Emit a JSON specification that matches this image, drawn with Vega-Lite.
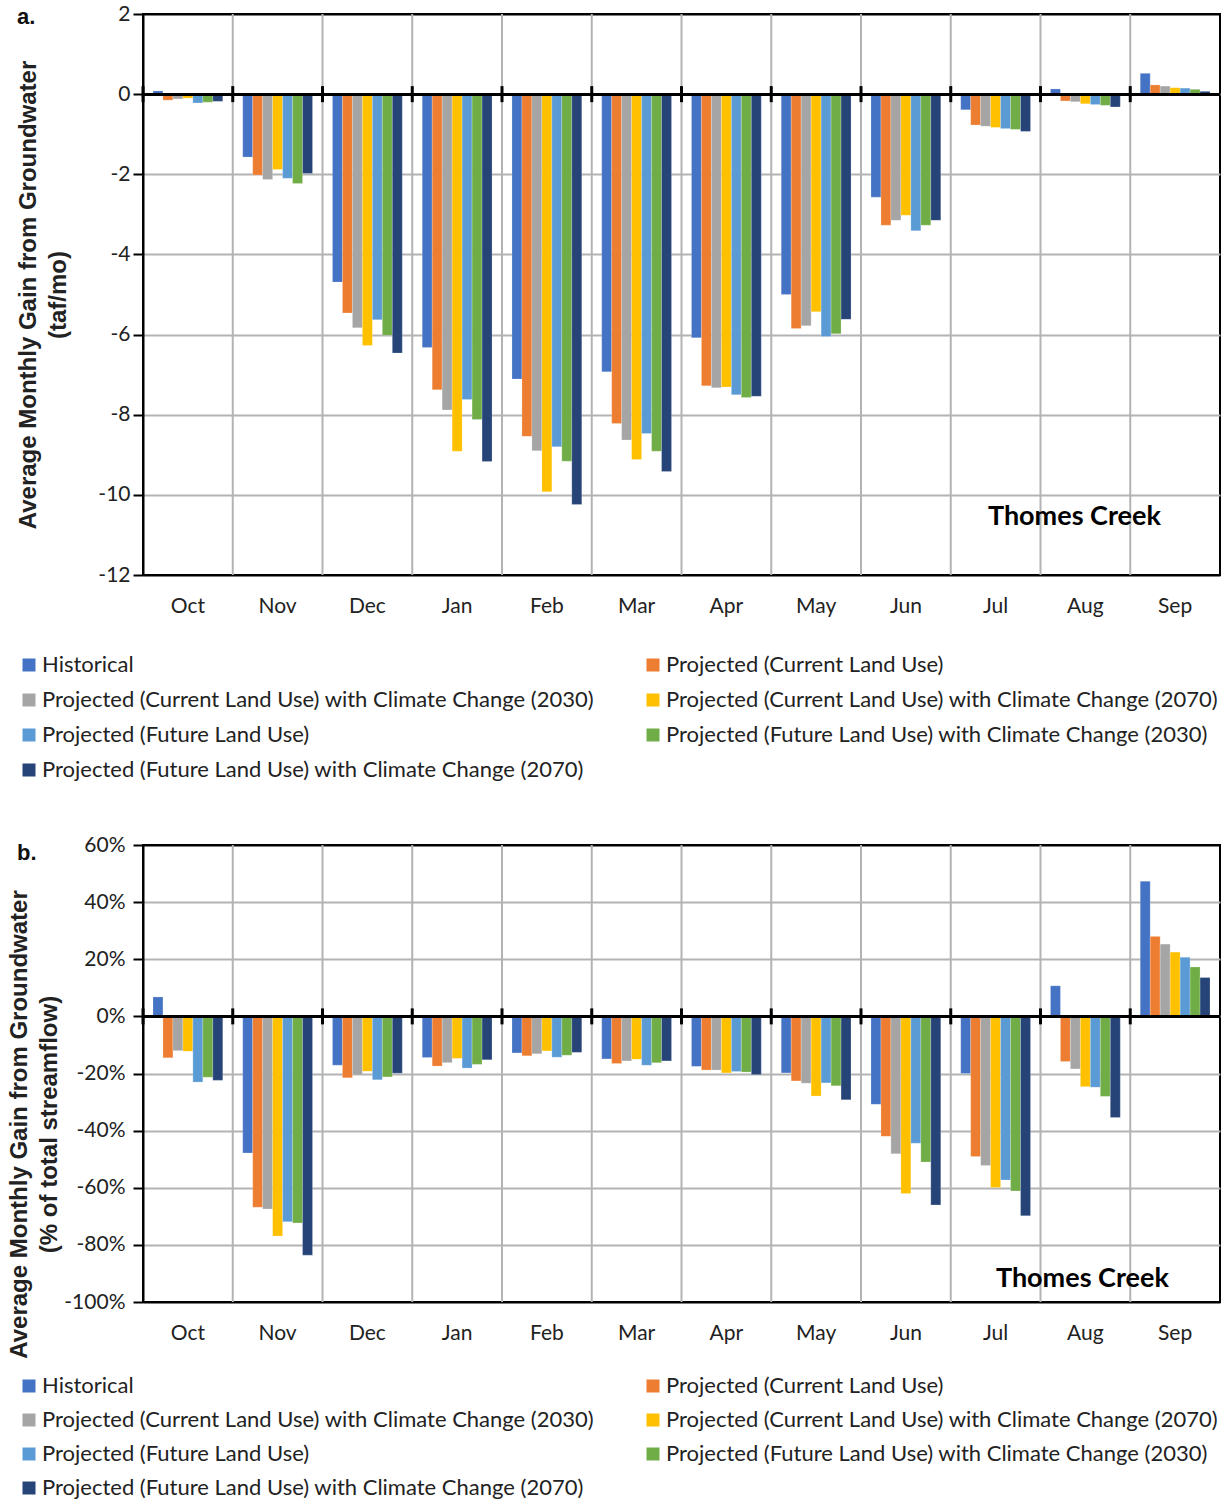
{
  "$schema": "https://vega.github.io/schema/vega-lite/v6.json",
  "padding": {"left": 6, "top": 2, "right": 5, "bottom": 0},
  "background": "white",
  "spacing": 51,
  "resolve": {"legend": {"color": "independent"}},
  "datasets": {
    "a": [
      {"month":"Oct","series":"Historical","value":0.08},
      {"month":"Oct","series":"Projected (Current Land Use)","value":-0.15},
      {"month":"Oct","series":"Projected (Current Land Use) with Climate Change (2030)","value":-0.12},
      {"month":"Oct","series":"Projected (Current Land Use) with Climate Change (2070)","value":-0.1},
      {"month":"Oct","series":"Projected (Future Land Use)","value":-0.22},
      {"month":"Oct","series":"Projected (Future Land Use) with Climate Change (2030)","value":-0.2},
      {"month":"Oct","series":"Projected (Future Land Use) with Climate Change (2070)","value":-0.18},
      {"month":"Nov","series":"Historical","value":-1.57},
      {"month":"Nov","series":"Projected (Current Land Use)","value":-2.02},
      {"month":"Nov","series":"Projected (Current Land Use) with Climate Change (2030)","value":-2.13},
      {"month":"Nov","series":"Projected (Current Land Use) with Climate Change (2070)","value":-1.88},
      {"month":"Nov","series":"Projected (Future Land Use)","value":-2.1},
      {"month":"Nov","series":"Projected (Future Land Use) with Climate Change (2030)","value":-2.23},
      {"month":"Nov","series":"Projected (Future Land Use) with Climate Change (2070)","value":-1.98},
      {"month":"Dec","series":"Historical","value":-4.69},
      {"month":"Dec","series":"Projected (Current Land Use)","value":-5.46},
      {"month":"Dec","series":"Projected (Current Land Use) with Climate Change (2030)","value":-5.83},
      {"month":"Dec","series":"Projected (Current Land Use) with Climate Change (2070)","value":-6.27},
      {"month":"Dec","series":"Projected (Future Land Use)","value":-5.63},
      {"month":"Dec","series":"Projected (Future Land Use) with Climate Change (2030)","value":-6.02},
      {"month":"Dec","series":"Projected (Future Land Use) with Climate Change (2070)","value":-6.46},
      {"month":"Jan","series":"Historical","value":-6.32},
      {"month":"Jan","series":"Projected (Current Land Use)","value":-7.38},
      {"month":"Jan","series":"Projected (Current Land Use) with Climate Change (2030)","value":-7.88},
      {"month":"Jan","series":"Projected (Current Land Use) with Climate Change (2070)","value":-8.91},
      {"month":"Jan","series":"Projected (Future Land Use)","value":-7.62},
      {"month":"Jan","series":"Projected (Future Land Use) with Climate Change (2030)","value":-8.12},
      {"month":"Jan","series":"Projected (Future Land Use) with Climate Change (2070)","value":-9.17},
      {"month":"Feb","series":"Historical","value":-7.11},
      {"month":"Feb","series":"Projected (Current Land Use)","value":-8.54},
      {"month":"Feb","series":"Projected (Current Land Use) with Climate Change (2030)","value":-8.9},
      {"month":"Feb","series":"Projected (Current Land Use) with Climate Change (2070)","value":-9.92},
      {"month":"Feb","series":"Projected (Future Land Use)","value":-8.8},
      {"month":"Feb","series":"Projected (Future Land Use) with Climate Change (2030)","value":-9.16},
      {"month":"Feb","series":"Projected (Future Land Use) with Climate Change (2070)","value":-10.24},
      {"month":"Mar","series":"Historical","value":-6.93},
      {"month":"Mar","series":"Projected (Current Land Use)","value":-8.22},
      {"month":"Mar","series":"Projected (Current Land Use) with Climate Change (2030)","value":-8.63},
      {"month":"Mar","series":"Projected (Current Land Use) with Climate Change (2070)","value":-9.12},
      {"month":"Mar","series":"Projected (Future Land Use)","value":-8.47},
      {"month":"Mar","series":"Projected (Future Land Use) with Climate Change (2030)","value":-8.91},
      {"month":"Mar","series":"Projected (Future Land Use) with Climate Change (2070)","value":-9.42},
      {"month":"Apr","series":"Historical","value":-6.08},
      {"month":"Apr","series":"Projected (Current Land Use)","value":-7.28},
      {"month":"Apr","series":"Projected (Current Land Use) with Climate Change (2030)","value":-7.33},
      {"month":"Apr","series":"Projected (Current Land Use) with Climate Change (2070)","value":-7.31},
      {"month":"Apr","series":"Projected (Future Land Use)","value":-7.5},
      {"month":"Apr","series":"Projected (Future Land Use) with Climate Change (2030)","value":-7.57},
      {"month":"Apr","series":"Projected (Future Land Use) with Climate Change (2070)","value":-7.54},
      {"month":"May","series":"Historical","value":-5.0},
      {"month":"May","series":"Projected (Current Land Use)","value":-5.85},
      {"month":"May","series":"Projected (Current Land Use) with Climate Change (2030)","value":-5.78},
      {"month":"May","series":"Projected (Current Land Use) with Climate Change (2070)","value":-5.43},
      {"month":"May","series":"Projected (Future Land Use)","value":-6.05},
      {"month":"May","series":"Projected (Future Land Use) with Climate Change (2030)","value":-5.98},
      {"month":"May","series":"Projected (Future Land Use) with Climate Change (2070)","value":-5.62},
      {"month":"Jun","series":"Historical","value":-2.57},
      {"month":"Jun","series":"Projected (Current Land Use)","value":-3.27},
      {"month":"Jun","series":"Projected (Current Land Use) with Climate Change (2030)","value":-3.15},
      {"month":"Jun","series":"Projected (Current Land Use) with Climate Change (2070)","value":-3.02},
      {"month":"Jun","series":"Projected (Future Land Use)","value":-3.41},
      {"month":"Jun","series":"Projected (Future Land Use) with Climate Change (2030)","value":-3.27},
      {"month":"Jun","series":"Projected (Future Land Use) with Climate Change (2070)","value":-3.15},
      {"month":"Jul","series":"Historical","value":-0.39},
      {"month":"Jul","series":"Projected (Current Land Use)","value":-0.77},
      {"month":"Jul","series":"Projected (Current Land Use) with Climate Change (2030)","value":-0.8},
      {"month":"Jul","series":"Projected (Current Land Use) with Climate Change (2070)","value":-0.83},
      {"month":"Jul","series":"Projected (Future Land Use)","value":-0.86},
      {"month":"Jul","series":"Projected (Future Land Use) with Climate Change (2030)","value":-0.88},
      {"month":"Jul","series":"Projected (Future Land Use) with Climate Change (2070)","value":-0.93},
      {"month":"Aug","series":"Historical","value":0.13},
      {"month":"Aug","series":"Projected (Current Land Use)","value":-0.17},
      {"month":"Aug","series":"Projected (Current Land Use) with Climate Change (2030)","value":-0.19},
      {"month":"Aug","series":"Projected (Current Land Use) with Climate Change (2070)","value":-0.24},
      {"month":"Aug","series":"Projected (Future Land Use)","value":-0.26},
      {"month":"Aug","series":"Projected (Future Land Use) with Climate Change (2030)","value":-0.28},
      {"month":"Aug","series":"Projected (Future Land Use) with Climate Change (2070)","value":-0.32},
      {"month":"Sep","series":"Historical","value":0.52},
      {"month":"Sep","series":"Projected (Current Land Use)","value":0.23},
      {"month":"Sep","series":"Projected (Current Land Use) with Climate Change (2030)","value":0.2},
      {"month":"Sep","series":"Projected (Current Land Use) with Climate Change (2070)","value":0.16},
      {"month":"Sep","series":"Projected (Future Land Use)","value":0.15},
      {"month":"Sep","series":"Projected (Future Land Use) with Climate Change (2030)","value":0.12},
      {"month":"Sep","series":"Projected (Future Land Use) with Climate Change (2070)","value":0.07}
    ],
    "b": [
      {"month":"Oct","series":"Historical","value":0.068},
      {"month":"Oct","series":"Projected (Current Land Use)","value":-0.145},
      {"month":"Oct","series":"Projected (Current Land Use) with Climate Change (2030)","value":-0.12},
      {"month":"Oct","series":"Projected (Current Land Use) with Climate Change (2070)","value":-0.122},
      {"month":"Oct","series":"Projected (Future Land Use)","value":-0.23},
      {"month":"Oct","series":"Projected (Future Land Use) with Climate Change (2030)","value":-0.213},
      {"month":"Oct","series":"Projected (Future Land Use) with Climate Change (2070)","value":-0.224},
      {"month":"Nov","series":"Historical","value":-0.478},
      {"month":"Nov","series":"Projected (Current Land Use)","value":-0.668},
      {"month":"Nov","series":"Projected (Current Land Use) with Climate Change (2030)","value":-0.674},
      {"month":"Nov","series":"Projected (Current Land Use) with Climate Change (2070)","value":-0.769},
      {"month":"Nov","series":"Projected (Future Land Use)","value":-0.719},
      {"month":"Nov","series":"Projected (Future Land Use) with Climate Change (2030)","value":-0.723},
      {"month":"Nov","series":"Projected (Future Land Use) with Climate Change (2070)","value":-0.836},
      {"month":"Dec","series":"Historical","value":-0.171},
      {"month":"Dec","series":"Projected (Current Land Use)","value":-0.215},
      {"month":"Dec","series":"Projected (Current Land Use) with Climate Change (2030)","value":-0.205},
      {"month":"Dec","series":"Projected (Current Land Use) with Climate Change (2070)","value":-0.192},
      {"month":"Dec","series":"Projected (Future Land Use)","value":-0.222},
      {"month":"Dec","series":"Projected (Future Land Use) with Climate Change (2030)","value":-0.212},
      {"month":"Dec","series":"Projected (Future Land Use) with Climate Change (2070)","value":-0.199},
      {"month":"Jan","series":"Historical","value":-0.144},
      {"month":"Jan","series":"Projected (Current Land Use)","value":-0.174},
      {"month":"Jan","series":"Projected (Current Land Use) with Climate Change (2030)","value":-0.162},
      {"month":"Jan","series":"Projected (Current Land Use) with Climate Change (2070)","value":-0.147},
      {"month":"Jan","series":"Projected (Future Land Use)","value":-0.181},
      {"month":"Jan","series":"Projected (Future Land Use) with Climate Change (2030)","value":-0.168},
      {"month":"Jan","series":"Projected (Future Land Use) with Climate Change (2070)","value":-0.152},
      {"month":"Feb","series":"Historical","value":-0.128},
      {"month":"Feb","series":"Projected (Current Land Use)","value":-0.138},
      {"month":"Feb","series":"Projected (Current Land Use) with Climate Change (2030)","value":-0.131},
      {"month":"Feb","series":"Projected (Current Land Use) with Climate Change (2070)","value":-0.121},
      {"month":"Feb","series":"Projected (Future Land Use)","value":-0.143},
      {"month":"Feb","series":"Projected (Future Land Use) with Climate Change (2030)","value":-0.136},
      {"month":"Feb","series":"Projected (Future Land Use) with Climate Change (2070)","value":-0.126},
      {"month":"Mar","series":"Historical","value":-0.149},
      {"month":"Mar","series":"Projected (Current Land Use)","value":-0.165},
      {"month":"Mar","series":"Projected (Current Land Use) with Climate Change (2030)","value":-0.156},
      {"month":"Mar","series":"Projected (Current Land Use) with Climate Change (2070)","value":-0.15},
      {"month":"Mar","series":"Projected (Future Land Use)","value":-0.171},
      {"month":"Mar","series":"Projected (Future Land Use) with Climate Change (2030)","value":-0.162},
      {"month":"Mar","series":"Projected (Future Land Use) with Climate Change (2070)","value":-0.156},
      {"month":"Apr","series":"Historical","value":-0.175},
      {"month":"Apr","series":"Projected (Current Land Use)","value":-0.188},
      {"month":"Apr","series":"Projected (Current Land Use) with Climate Change (2030)","value":-0.188},
      {"month":"Apr","series":"Projected (Current Land Use) with Climate Change (2070)","value":-0.198},
      {"month":"Apr","series":"Projected (Future Land Use)","value":-0.193},
      {"month":"Apr","series":"Projected (Future Land Use) with Climate Change (2030)","value":-0.195},
      {"month":"Apr","series":"Projected (Future Land Use) with Climate Change (2070)","value":-0.204},
      {"month":"May","series":"Historical","value":-0.198},
      {"month":"May","series":"Projected (Current Land Use)","value":-0.226},
      {"month":"May","series":"Projected (Current Land Use) with Climate Change (2030)","value":-0.234},
      {"month":"May","series":"Projected (Current Land Use) with Climate Change (2070)","value":-0.279},
      {"month":"May","series":"Projected (Future Land Use)","value":-0.233},
      {"month":"May","series":"Projected (Future Land Use) with Climate Change (2030)","value":-0.243},
      {"month":"May","series":"Projected (Future Land Use) with Climate Change (2070)","value":-0.292},
      {"month":"Jun","series":"Historical","value":-0.308},
      {"month":"Jun","series":"Projected (Current Land Use)","value":-0.42},
      {"month":"Jun","series":"Projected (Current Land Use) with Climate Change (2030)","value":-0.481},
      {"month":"Jun","series":"Projected (Current Land Use) with Climate Change (2070)","value":-0.62},
      {"month":"Jun","series":"Projected (Future Land Use)","value":-0.444},
      {"month":"Jun","series":"Projected (Future Land Use) with Climate Change (2030)","value":-0.51},
      {"month":"Jun","series":"Projected (Future Land Use) with Climate Change (2070)","value":-0.66},
      {"month":"Jul","series":"Historical","value":-0.2},
      {"month":"Jul","series":"Projected (Current Land Use)","value":-0.491},
      {"month":"Jul","series":"Projected (Current Land Use) with Climate Change (2030)","value":-0.522},
      {"month":"Jul","series":"Projected (Current Land Use) with Climate Change (2070)","value":-0.599},
      {"month":"Jul","series":"Projected (Future Land Use)","value":-0.573},
      {"month":"Jul","series":"Projected (Future Land Use) with Climate Change (2030)","value":-0.611},
      {"month":"Jul","series":"Projected (Future Land Use) with Climate Change (2070)","value":-0.698},
      {"month":"Aug","series":"Historical","value":0.107},
      {"month":"Aug","series":"Projected (Current Land Use)","value":-0.158},
      {"month":"Aug","series":"Projected (Current Land Use) with Climate Change (2030)","value":-0.184},
      {"month":"Aug","series":"Projected (Current Land Use) with Climate Change (2070)","value":-0.246},
      {"month":"Aug","series":"Projected (Future Land Use)","value":-0.248},
      {"month":"Aug","series":"Projected (Future Land Use) with Climate Change (2030)","value":-0.28},
      {"month":"Aug","series":"Projected (Future Land Use) with Climate Change (2070)","value":-0.354},
      {"month":"Sep","series":"Historical","value":0.473},
      {"month":"Sep","series":"Projected (Current Land Use)","value":0.28},
      {"month":"Sep","series":"Projected (Current Land Use) with Climate Change (2030)","value":0.253},
      {"month":"Sep","series":"Projected (Current Land Use) with Climate Change (2070)","value":0.225},
      {"month":"Sep","series":"Projected (Future Land Use)","value":0.207},
      {"month":"Sep","series":"Projected (Future Land Use) with Climate Change (2030)","value":0.173},
      {"month":"Sep","series":"Projected (Future Land Use) with Climate Change (2070)","value":0.136}
    ],
    "labelA": [{"month":"Aug","value":-10.55,"label":"Thomes Creek"}],
    "labelB": [{"month":"Aug","value":-0.92,"label":"Thomes Creek"}]
  },
  "config": {
    "font": "Lato",
    "view": {"stroke": "black", "strokeWidth": 2},
    "axis": {"labelFont": "Lato", "labelFontSize": 21, "labelColor": "#222222", "titleColor": "#222222"},
    "axisX": {"grid": false, "ticks": false, "domain": false, "labelAngle": 0, "labelPadding": 20, "title": null},
    "axisY": {"domainColor": "black", "domainWidth": 2, "tickColor": "black", "tickWidth": 2, "tickSize": 10, "labelPadding": 3, "gridWidth": 2, "titleFont": "Liberation Sans", "titleFontSize": 24, "titleFontWeight": "bold", "titleLineHeight": 30, "titlePadding": 27, "labelExpr": "replace(datum.label, '\u2212', '-')"},
    "legend": {"labelFont": "Lato", "labelFontSize": 22, "labelColor": "#222222", "symbolType": "square", "symbolSize": 169, "symbolStrokeWidth": 0, "labelLimit": 0, "columns": 2, "direction": "horizontal", "columnPadding": 47, "rowPadding": 13, "labelOffset": 2, "orient": "none", "legendX": -125},
    "title": {"font": "Liberation Sans", "fontSize": 22, "fontWeight": "bold", "anchor": "start", "frame": "group", "color": "#111111"}
  },
  "vconcat": [
    {
      "width": 1077,
      "height": 561,
      "title": {"text": "a.", "dx": -126, "dy": 30},
      "layer": [
        {
          "data": {"name": "a"},
          "transform": [{"filter": "datum.month != 'Oct' && datum.series == 'Historical'"}],
          "mark": {"type": "rule", "color": "#b3b3b3", "strokeWidth": 2},
          "encoding": {
            "x": {"field": "month", "type": "nominal", "bandPosition": 0, "sort": ["Oct","Nov","Dec","Jan","Feb","Mar","Apr","May","Jun","Jul","Aug","Sep"], "scale": {"paddingInner": 0, "paddingOuter": 0}}
          }
        },
        {
          "data": {"name": "a"},
          "mark": {"type": "bar", "stroke": "white", "strokeOpacity": 0.35, "strokeWidth": 0.6},
          "encoding": {
            "x": {"field": "month", "type": "nominal", "sort": ["Oct","Nov","Dec","Jan","Feb","Mar","Apr","May","Jun","Jul","Aug","Sep"], "scale": {"paddingInner": 0, "paddingOuter": 0}},
            "xOffset": {"field": "series", "type": "nominal", "sort": ["Historical","Projected (Current Land Use)","Projected (Current Land Use) with Climate Change (2030)","Projected (Current Land Use) with Climate Change (2070)","Projected (Future Land Use)","Projected (Future Land Use) with Climate Change (2030)","Projected (Future Land Use) with Climate Change (2070)"], "scale": {"paddingInner": 0, "paddingOuter": 1.14}},
            "y": {"field": "value", "type": "quantitative", "scale": {"domain": [-12, 2], "nice": false, "zero": false}, "axis": {"values": [2,0,-2,-4,-6,-8,-10,-12], "title": ["Average Monthly Gain from Groundwater", "(taf/mo)"], "gridColor": {"condition": {"test": "datum.value == 2 || datum.value == -12", "value": "black"}, "value": "#b3b3b3"}}},
            "color": {"field": "series", "type": "nominal", "sort": ["Historical","Projected (Current Land Use)","Projected (Current Land Use) with Climate Change (2030)","Projected (Current Land Use) with Climate Change (2070)","Projected (Future Land Use)","Projected (Future Land Use) with Climate Change (2030)","Projected (Future Land Use) with Climate Change (2070)"], "scale": {"range": ["#4472C4","#ED7D31","#A5A5A5","#FFC000","#5B9BD5","#70AD47","#264478"]}, "legend": {"title": null, "legendY": 640}}
          }
        },
        {
          "data": {"name": "a"},
          "mark": {"type": "rule", "color": "black", "strokeWidth": 2},
          "encoding": {"y": {"datum": 0}}
        },
        {
          "data": {"name": "a"},
          "transform": [{"filter": "datum.series == 'Historical'"}],
          "mark": {"type": "rule", "color": "black", "strokeWidth": 3},
          "encoding": {
            "x": {"field": "month", "type": "nominal", "bandPosition": 0, "sort": ["Oct","Nov","Dec","Jan","Feb","Mar","Apr","May","Jun","Jul","Aug","Sep"]},
            "y": {"datum": -0.2},
            "y2": {"datum": 0.2}
          }
        },
        {
          "data": {"name": "labelA"},
          "mark": {"type": "text", "font": "Lato", "fontWeight": "bold", "fontSize": 27, "color": "black", "dx": -11},
          "encoding": {
            "x": {"field": "month", "type": "nominal", "sort": ["Oct","Nov","Dec","Jan","Feb","Mar","Apr","May","Jun","Jul","Aug","Sep"]},
            "y": {"field": "value", "type": "quantitative"},
            "text": {"field": "label"}
          }
        }
      ]
    },
    {
      "width": 1077,
      "height": 457,
      "title": {"text": "b.", "dx": -126, "dy": 35},
      "layer": [
        {
          "data": {"name": "b"},
          "transform": [{"filter": "datum.month != 'Oct' && datum.series == 'Historical'"}],
          "mark": {"type": "rule", "color": "#b3b3b3", "strokeWidth": 2},
          "encoding": {
            "x": {"field": "month", "type": "nominal", "bandPosition": 0, "sort": ["Oct","Nov","Dec","Jan","Feb","Mar","Apr","May","Jun","Jul","Aug","Sep"], "scale": {"paddingInner": 0, "paddingOuter": 0}}
          }
        },
        {
          "data": {"name": "b"},
          "mark": {"type": "bar", "stroke": "white", "strokeOpacity": 0.35, "strokeWidth": 0.6},
          "encoding": {
            "x": {"field": "month", "type": "nominal", "sort": ["Oct","Nov","Dec","Jan","Feb","Mar","Apr","May","Jun","Jul","Aug","Sep"], "scale": {"paddingInner": 0, "paddingOuter": 0}},
            "xOffset": {"field": "series", "type": "nominal", "sort": ["Historical","Projected (Current Land Use)","Projected (Current Land Use) with Climate Change (2030)","Projected (Current Land Use) with Climate Change (2070)","Projected (Future Land Use)","Projected (Future Land Use) with Climate Change (2030)","Projected (Future Land Use) with Climate Change (2070)"], "scale": {"paddingInner": 0, "paddingOuter": 1.14}},
            "y": {"field": "value", "type": "quantitative", "scale": {"domain": [-1, 0.6], "nice": false, "zero": false}, "axis": {"values": [0.6,0.4,0.2,0,-0.2,-0.4,-0.6,-0.8,-1], "format": ".0%", "labelPadding": 8, "titlePadding": 2, "titleY": 279, "title": ["Average Monthly Gain from Groundwater", "(% of total streamflow)"], "gridColor": {"condition": {"test": "datum.value > 0.59 || datum.value < -0.99", "value": "black"}, "value": "#b3b3b3"}}},
            "color": {"field": "series", "type": "nominal", "sort": ["Historical","Projected (Current Land Use)","Projected (Current Land Use) with Climate Change (2030)","Projected (Current Land Use) with Climate Change (2070)","Projected (Future Land Use)","Projected (Future Land Use) with Climate Change (2030)","Projected (Future Land Use) with Climate Change (2070)"], "scale": {"range": ["#4472C4","#ED7D31","#A5A5A5","#FFC000","#5B9BD5","#70AD47","#264478"]}, "legend": {"title": null, "legendY": 530, "rowPadding": 12}}
          }
        },
        {
          "data": {"name": "b"},
          "mark": {"type": "rule", "color": "black", "strokeWidth": 2},
          "encoding": {"y": {"datum": 0}}
        },
        {
          "data": {"name": "b"},
          "transform": [{"filter": "datum.series == 'Historical'"}],
          "mark": {"type": "rule", "color": "black", "strokeWidth": 3},
          "encoding": {
            "x": {"field": "month", "type": "nominal", "bandPosition": 0, "sort": ["Oct","Nov","Dec","Jan","Feb","Mar","Apr","May","Jun","Jul","Aug","Sep"]},
            "y": {"datum": -0.028},
            "y2": {"datum": 0.028}
          }
        },
        {
          "data": {"name": "labelB"},
          "mark": {"type": "text", "font": "Lato", "fontWeight": "bold", "fontSize": 27, "color": "black", "dx": -3},
          "encoding": {
            "x": {"field": "month", "type": "nominal", "sort": ["Oct","Nov","Dec","Jan","Feb","Mar","Apr","May","Jun","Jul","Aug","Sep"]},
            "y": {"field": "value", "type": "quantitative"},
            "text": {"field": "label"}
          }
        }
      ]
    }
  ]
}
